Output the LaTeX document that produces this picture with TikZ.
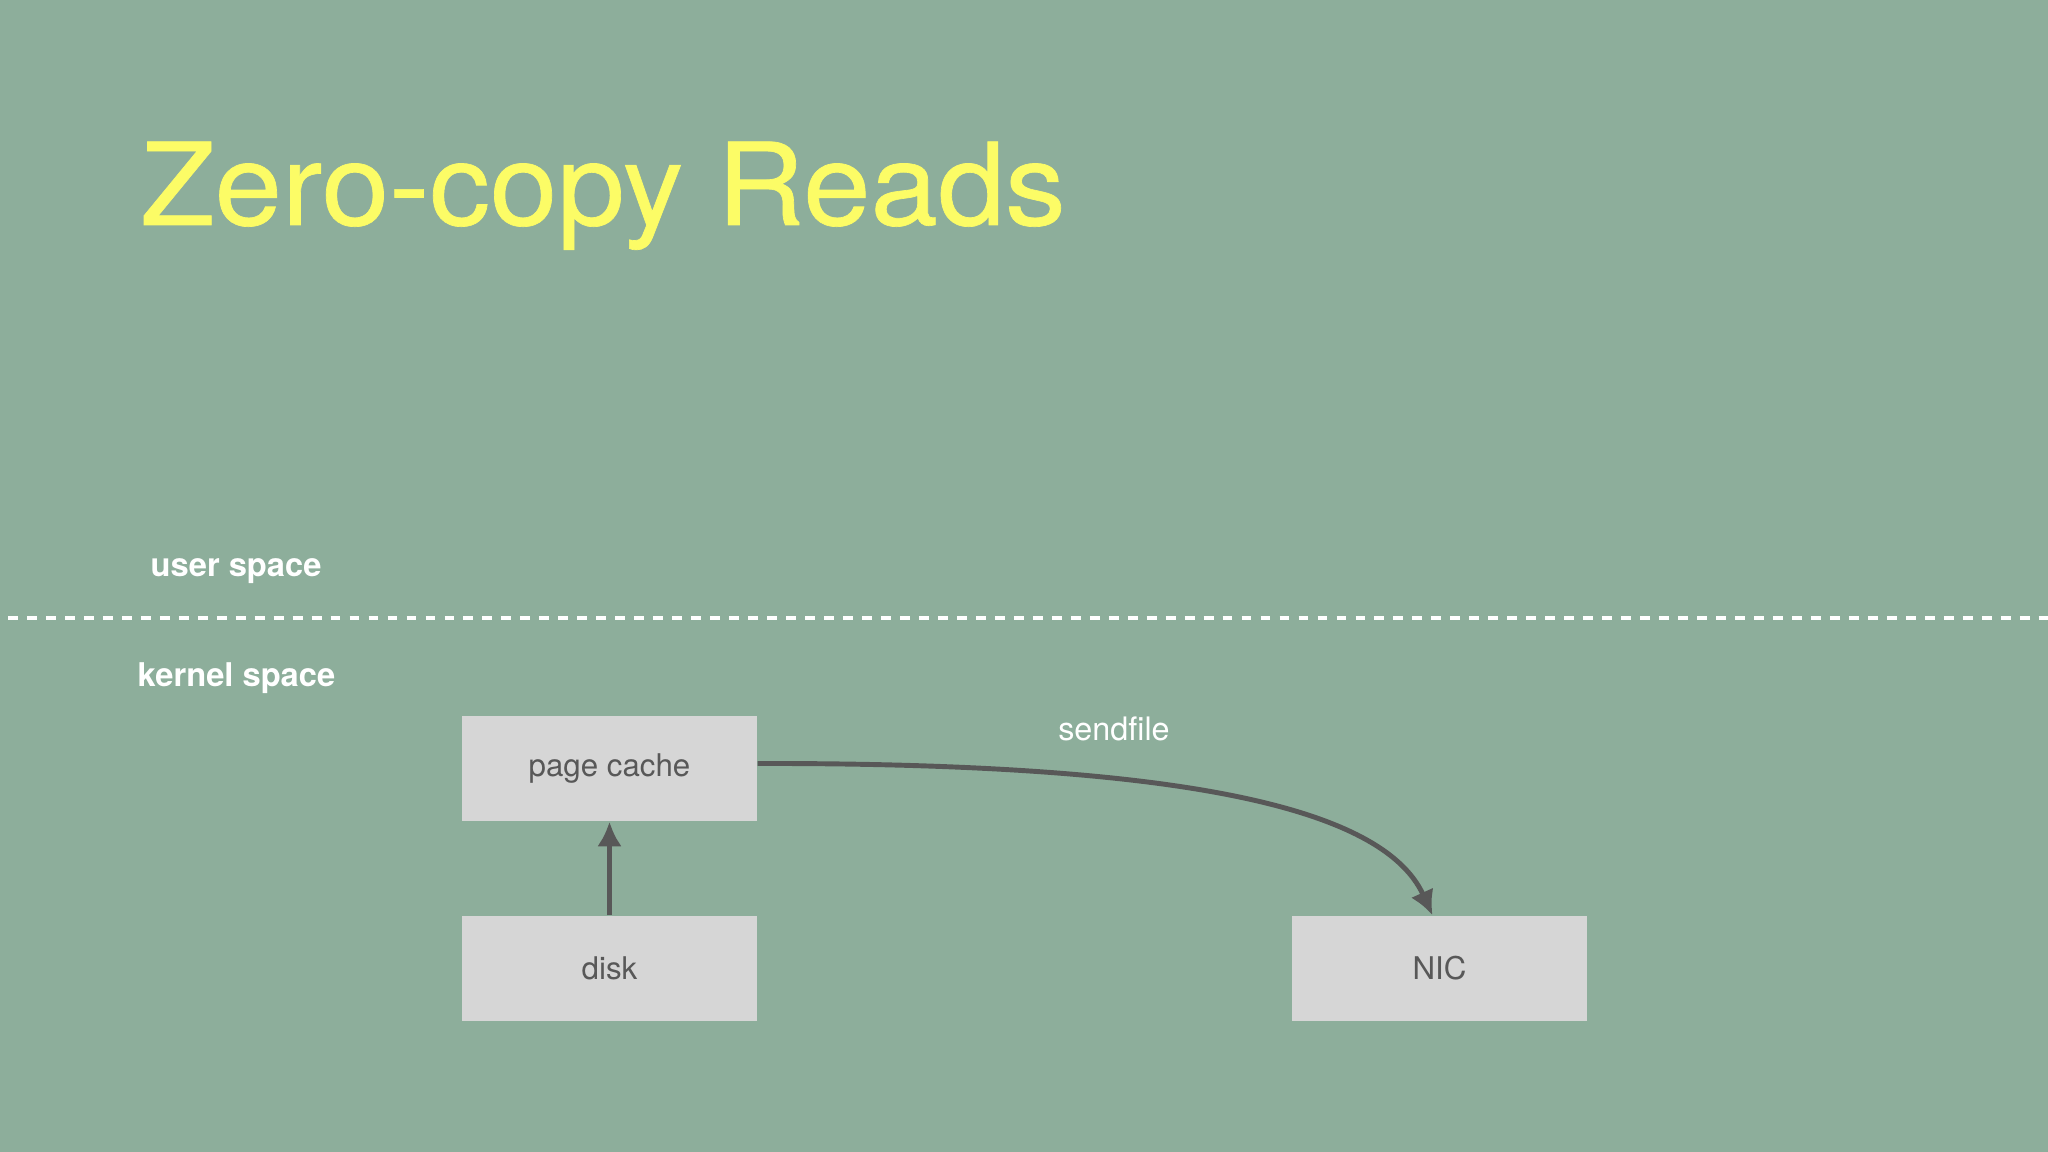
\documentclass[tikz,border=0pt]{standalone}
\usepackage{fontspec}
\setmainfont{TeX Gyre Heros}
\newfontfamily\titlefont[FakeStretch=1.06, FakeBold=0.6]{TeX Gyre Heros}
\usepackage{tikz}
\usetikzlibrary{arrows.meta,positioning}

\definecolor{slidebg}{RGB}{141,174,155}
\definecolor{titleyellow}{RGB}{252,252,102}
\definecolor{boxgray}{RGB}{214,214,214}
\definecolor{inkgray}{RGB}{88,88,88}

\begin{document}
\begin{tikzpicture}[>=Latex,
  block/.style={fill=boxgray, text=inkgray, minimum width=2.95cm, minimum height=1.05cm,
    inner sep=0pt, font=\fontsize{8.9}{10}\selectfont},
  flow/.style={draw=inkgray, line width=1.4pt, arrows={-Latex[length=7pt,width=7pt]}},
  spacelabel/.style={text=white, font=\fontsize{9.3}{11}\selectfont\bfseries, inner sep=0pt, anchor=base west}]
% slide background
\fill[slidebg] (0,0) rectangle (20.48,11.52);
\useasboundingbox (0,0) rectangle (20.48,11.52);

% title
\node[anchor=base west, inner sep=0pt, text=titleyellow, font=\titlefont\fontsize{32.5}{38}\selectfont] (title) at (1.40,9.27) {Zero-copy Reads};

% user / kernel boundary
\node[spacelabel] (user) at (1.50,5.75) {user space};
\draw[white, line width=1.1pt, dash pattern=on 2.8pt off 2.6pt] (0.08,5.34) -- (20.48,5.34);
\node[spacelabel] (kernel) at (1.37,4.65) {kernel space};

% kernel boxes
\node[block] (cache) at (6.095,3.835) {page cache};
\node[block] (disk) at (6.095,1.835) {disk};
\node[block] (nic) at (14.395,1.835) {NIC};

% data path
\draw[flow] (disk.north) -- (cache.south);
\draw[flow] ([yshift=0.05cm]cache.east) .. controls (11.5,3.89) and (13.8,3.52) .. ([xshift=-0.07cm]nic.north);
\node[text=white, font=\fontsize{9.2}{11}\selectfont, inner sep=0pt] (sendfile) at (11.14,4.23) {sendfile};
\end{tikzpicture}
\end{document}
